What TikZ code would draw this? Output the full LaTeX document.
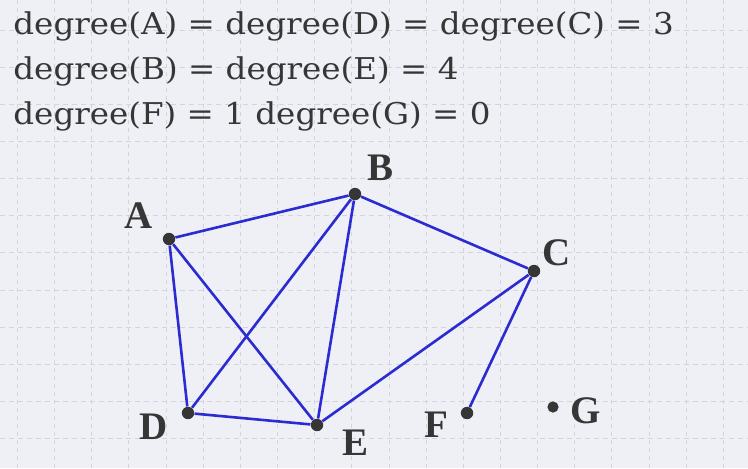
\documentclass[tikz,border=0pt]{standalone}
\usepackage{fontspec}
\setmainfont{DejaVu Serif}[FakeStretch=1.085]
\newfontfamily\labelfont{Liberation Serif}
\usepackage{xcolor}
\usetikzlibrary{calc}
\definecolor{bgpaper}{HTML}{EFF0F5}
\definecolor{gridgray}{HTML}{D4D5DB}
\definecolor{edgeblue}{HTML}{2B2BD2}
\definecolor{inkgray}{HTML}{363636}
\tikzset{
	edge/.style={draw=edgeblue,line width=1.3pt},
	vertex/.style={circle,fill=inkgray,inner sep=0pt,minimum size=6.2pt},
	vlabel/.style={font=\labelfont\bfseries\fontsize{19.5}{20}\selectfont,text=inkgray},
	degtext/.style={anchor=base west,inner sep=0pt,font=\fontsize{15}{18}\selectfont,text=inkgray}
}

\begin{document}
\begin{tikzpicture}[x=0.5pt,y=-0.5pt]
	\fill[bgpaper] (0,0) rectangle (748,468);
	\useasboundingbox (0,0) rectangle (748,468);
	% grid
	\foreach \i in {0,...,19}
		\draw[gridgray,line width=0.5pt,dash pattern=on 2pt off 2pt] ({17.5+37.15*\i},0) -- ({17.5+37.15*\i},468);
	\foreach \j in {0,...,11}
		\draw[gridgray,line width=0.5pt,dash pattern=on 2.5pt off 2pt] (0,{30+37.15*\j}) -- (748,{30+37.15*\j});
	% degrees
	\node[degtext] (l1) at (13,34) {degree(A) = degree(D) = degree(C) = 3};
	\node[degtext] (l2) at (13,79) {degree(B) = degree(E) = 4};
	\node[degtext] (l3) at (13,124) {degree(F) = 1 degree(G) = 0};
	% vertices
	\node[vertex] (A) at (169,239) {};
	\node[vertex] (B) at (355,194) {};
	\node[vertex] (C) at (534,271) {};
	\node[vertex] (D) at (188,413) {};
	\node[vertex] (E) at (317,425) {};
	\node[vertex] (F) at (467,413) {};
	\node[vertex,minimum size=5.6pt] (G) at (553,407) {};
	% edges
	\draw[edge] (A) -- (B);
	\draw[edge] (A) -- (D);
	\draw[edge] (A) -- (E);
	\draw[edge] (B) -- (D);
	\draw[edge] (B) -- (E);
	\draw[edge] (B) -- (C);
	\draw[edge] (C) -- (E);
	\draw[edge] (C) -- (F);
	\draw[edge] (D) -- (E);
	% labels
	\node[vlabel] (la) at (139,216) {A};
	\node[vlabel] (lb) at (380,168) {B};
	\node[vlabel] (lc) at (557,253) {C};
	\node[vlabel] (ld) at (154,427) {D};
	\node[vlabel] (le) at (355,443) {E};
	\node[vlabel] (lf) at (436,425) {F};
	\node[vlabel] (lg) at (586,411) {G};
\end{tikzpicture}
\end{document}
